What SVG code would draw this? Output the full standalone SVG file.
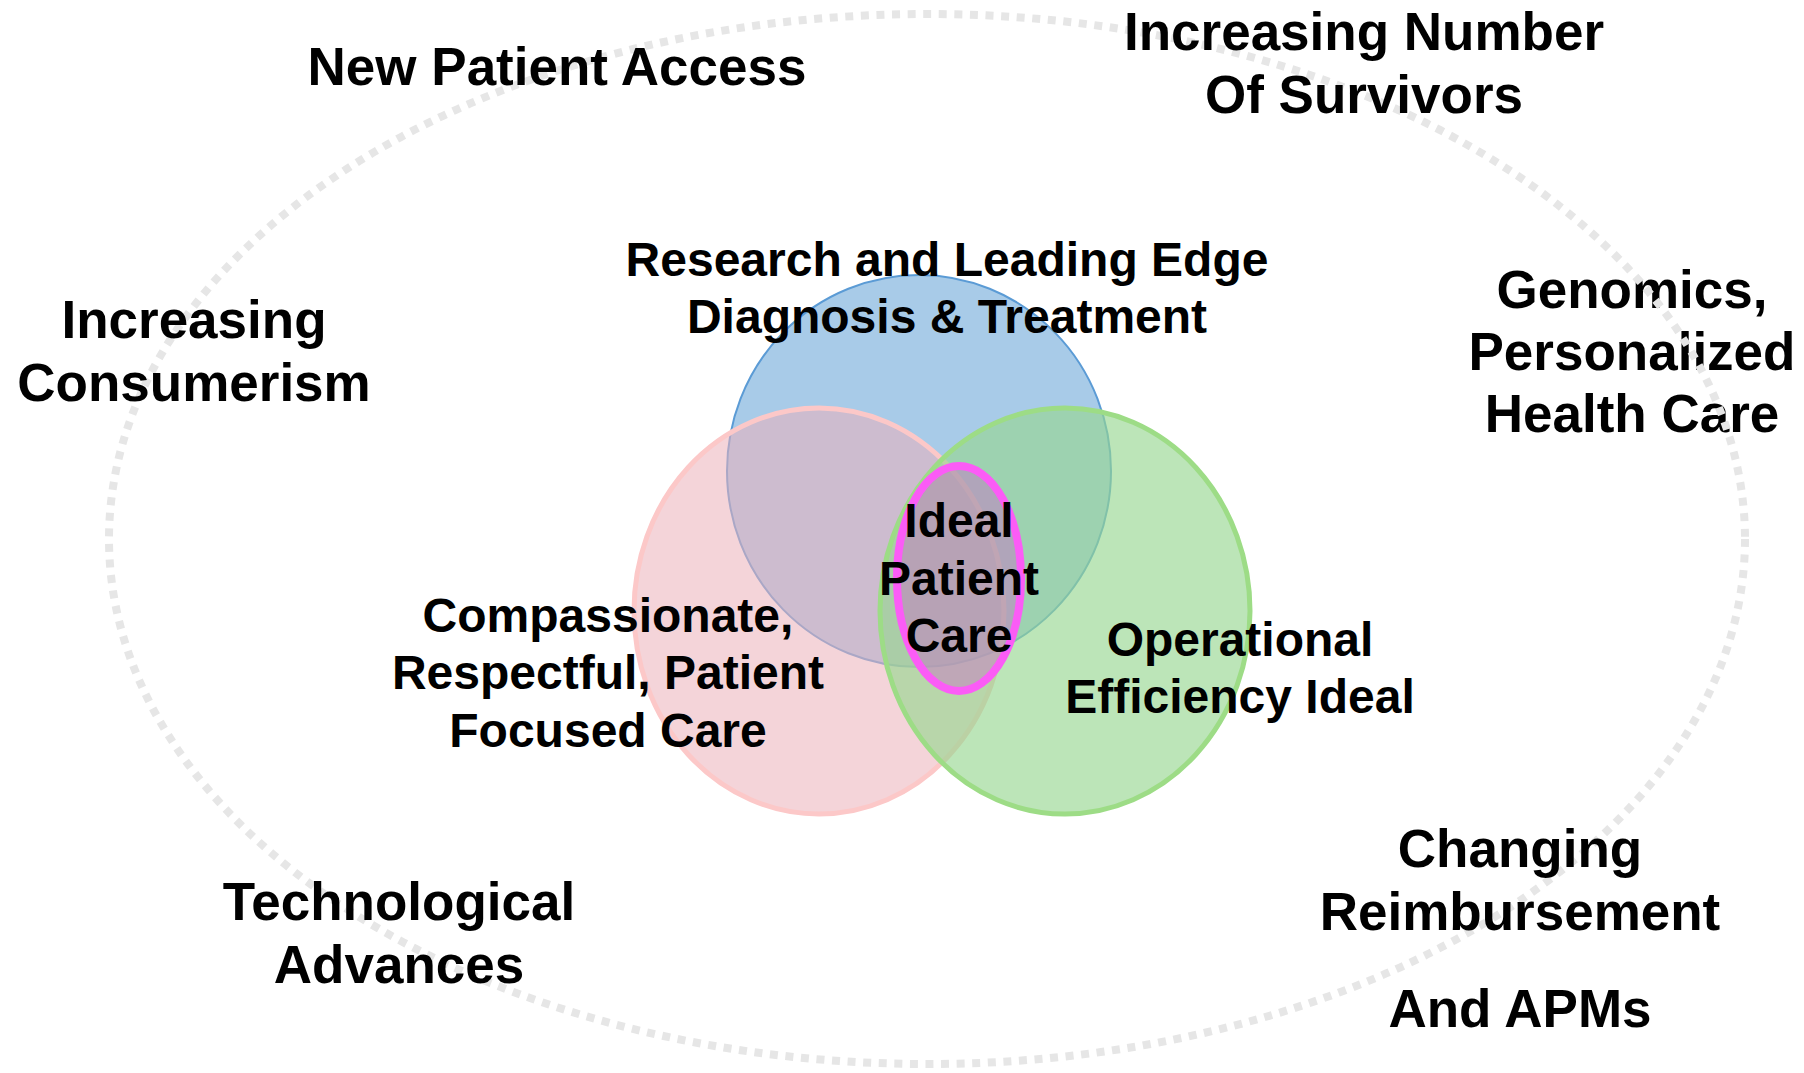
<svg xmlns="http://www.w3.org/2000/svg" width="1804" height="1073" viewBox="0 0 1804 1073">
  <style>
    text { font-family: "Liberation Sans", Arial, sans-serif; font-weight: bold; fill: #000; text-anchor: middle; }
    .outer { font-size: 53px; }
    .inner { font-size: 48px; }
    .env { fill: none; stroke: #e6e6e6; stroke-width: 8; stroke-dasharray: 8 7.6; }
  </style>
  <rect width="1804" height="1073" fill="#ffffff"/>

  <!-- three overlapping circles -->
  <g id="research">
    <ellipse cx="919" cy="471" rx="192" ry="196" fill="#a8cbe8" stroke="#5b9bd5" stroke-width="2"/>
  </g>
  <g id="compassionate">
    <ellipse cx="819" cy="611" rx="185" ry="203" fill="#ebb1ba" fill-opacity="0.55" stroke="#fcc8c8" stroke-width="5"/>
  </g>
  <g id="operational">
    <ellipse cx="1065" cy="611" rx="185" ry="203" fill="#96d690" fill-opacity="0.64" stroke="#9ddc86" stroke-width="5"/>
  </g>
  <g id="ideal">
    <ellipse cx="959" cy="578.5" rx="62" ry="112.5" fill="#c86ec8" fill-opacity="0.45" stroke="#fb5cf6" stroke-width="8"/>
  </g>

  <!-- circle labels -->
  <g id="research-label">
    <text class="inner" x="947" y="276">Research and Leading Edge</text>
    <text class="inner" x="947" y="333">Diagnosis &amp; Treatment</text>
  </g>
  <g id="compassionate-label">
    <text class="inner" x="608" y="632">Compassionate,</text>
    <text class="inner" x="608" y="689">Respectful, Patient</text>
    <text class="inner" x="608" y="747">Focused Care</text>
  </g>
  <g id="operational-label">
    <text class="inner" x="1240" y="656">Operational</text>
    <text class="inner" x="1240" y="713">Efficiency Ideal</text>
  </g>
  <g id="ideal-label">
    <text class="inner" x="959" y="537">Ideal</text>
    <text class="inner" x="959" y="595">Patient</text>
    <text class="inner" x="959" y="652">Care</text>
  </g>

  <!-- this driver sits beneath the boundary line -->
  <g id="genomics">
    <text class="outer" x="1632" y="308">Genomics,</text>
    <text class="outer" x="1632" y="370">Personalized</text>
    <text class="outer" x="1632" y="432">Health Care</text>
  </g>

  <!-- dotted environment boundary -->
  <g id="environment">
    <ellipse class="env" cx="927" cy="539" rx="818" ry="525"/>
  </g>

  <!-- surrounding drivers -->
  <g id="new-patient-access">
    <text class="outer" x="557" y="85">New Patient Access</text>
  </g>
  <g id="survivors">
    <text class="outer" x="1364" y="50">Increasing Number</text>
    <text class="outer" x="1364" y="113">Of Survivors</text>
  </g>
  <g id="consumerism">
    <text class="outer" x="194" y="338">Increasing</text>
    <text class="outer" x="194" y="401">Consumerism</text>
  </g>
  <g id="technology">
    <text class="outer" x="399" y="920">Technological</text>
    <text class="outer" x="399" y="983">Advances</text>
  </g>
  <g id="reimbursement">
    <text class="outer" x="1520" y="867">Changing</text>
    <text class="outer" x="1520" y="930">Reimbursement</text>
    <text class="outer" x="1520" y="1027">And APMs</text>
  </g>
</svg>
